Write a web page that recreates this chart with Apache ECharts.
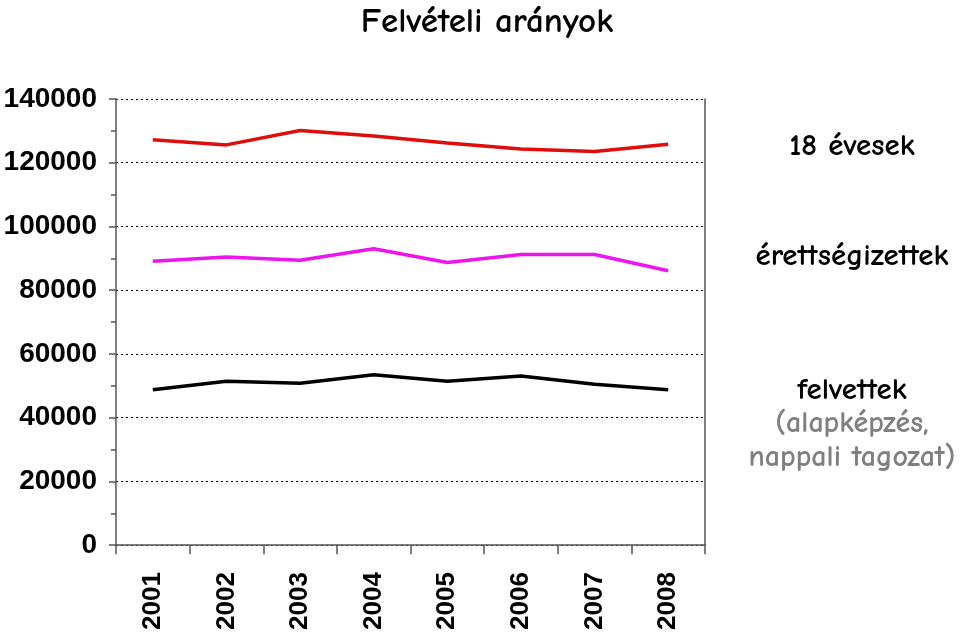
<!DOCTYPE html>
<html>
<head>
<meta charset="utf-8">
<script src="https://cdn.jsdelivr.net/npm/echarts@6/dist/echarts.min.js"></script>
<style>html,body{margin:0;padding:0;background:#fff}#c{width:960px;height:633px}</style>
</head>
<body>
<div id="c"></div>
<script>
var years = ['2001','2002','2003','2004','2005','2006','2007','2008'];
var evesek18 = [127200, 125600, 130100, 128400, 126200, 124300, 123500, 125800];
var erettsegizettek = [89100, 90400, 89400, 93000, 88700, 91200, 91200, 86100];
var felvettek = [48800, 51400, 50800, 53500, 51400, 53100, 50500, 48800];
var yTicks = [0, 20000, 40000, 60000, 80000, 100000, 120000, 140000];

var chart = echarts.init(document.getElementById('c'), null, {renderer: 'canvas'});
var labelFont = '"Comic Sans MS", "Comic Neue", "DejaVu Sans", sans-serif';
var axisFont = '"Liberation Sans", Arial, sans-serif';
function txt(x, y, s, size, weight, color) {
  return {type: 'text', style: {x: x, y: y, text: s, align: 'center', verticalAlign: 'middle',
    fontFamily: labelFont, fontSize: size, fontWeight: weight, fill: color}};
}
chart.setOption({
  animation: false,
  title: {
    text: 'Felvételi arányok', left: 482, top: 0, textAlign: 'center',
    textStyle: {fontFamily: labelFont, fontSize: 35, fontWeight: 'bold', color: '#000'}
  },
  grid: {left: 116, right: 255, top: 99, bottom: 84},
  xAxis: {
    type: 'category', data: years, boundaryGap: true,
    axisLine: {lineStyle: {color: '#555', width: 1.5}},
    axisTick: {show: true, length: 9, lineStyle: {color: '#555', width: 1.5}},
    axisLabel: {rotate: 90, margin: 27, fontFamily: axisFont, fontWeight: 'bold', fontSize: 26, color: '#000'},
    splitLine: {show: false}
  },
  yAxis: [{
    type: 'value', min: 0, max: 140000, interval: 20000,
    axisLine: {show: true, lineStyle: {color: '#555', width: 1.5}},
    axisTick: {show: true, length: 7, lineStyle: {color: '#555', width: 1.5}},
    minorTick: {show: true, splitNumber: 2, length: 5, lineStyle: {color: '#555', width: 1.5}},
    axisLabel: {margin: 19, fontFamily: axisFont, fontWeight: 'bold', fontSize: 28, color: '#000',
      formatter: function (v) { return yTicks.indexOf(v) >= 0 ? String(v) : ''; }},
    splitLine: {show: true, lineStyle: {type: [2, 3], color: '#000', width: 1}}
  }, {
    type: 'value', min: 0, max: 140000, interval: 20000, position: 'right',
    axisLine: {show: true, lineStyle: {color: '#555', width: 1.5}},
    axisTick: {show: false}, axisLabel: {show: false}, splitLine: {show: false}
  }],
  series: [
    {name: '18 évesek', type: 'line', data: evesek18, symbol: 'none', lineStyle: {color: '#e00d0d', width: 3.5}},
    {name: 'érettségizettek', type: 'line', data: erettsegizettek, symbol: 'none', lineStyle: {color: '#ee14ee', width: 3.5}},
    {name: 'felvettek', type: 'line', data: felvettek, symbol: 'none', lineStyle: {color: '#000', width: 3.5}}
  ],
  graphic: [
    txt(852, 146, '18 évesek', 31, 'bold', '#000'),
    txt(852, 256, 'érettségizettek', 31, 'bold', '#000'),
    txt(852, 390, 'felvettek', 31, 'bold', '#000'),
    txt(852, 424, '(alapképzés,', 30, 'bold', '#808080'),
    txt(852, 458, 'nappali tagozat)', 30, 'bold', '#808080')
  ]
});
</script>
</body>
</html>
